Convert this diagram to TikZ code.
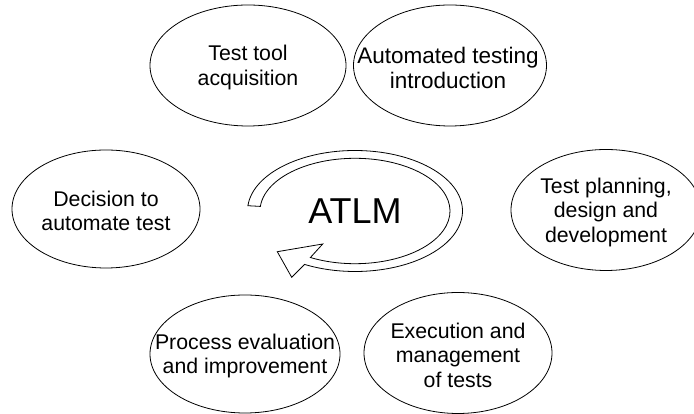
\documentclass[tikz,border=0pt]{standalone}
\usepackage{fontspec}
\setmainfont{Liberation Sans}
\usetikzlibrary{shapes.geometric,calc}
\tikzset{
  bubble/.style={ellipse, draw=black, line width=0.8pt, fill=white, inner sep=0pt},
  lbl/.style={align=center, inner sep=0pt, yshift=-2pt, font=\fontsize{21.3}{24.5}\selectfont},
  cyc/.style={draw=black, line width=0.8pt, fill=white, line join=miter},
}
\begin{document}
\begin{tikzpicture}[x=1pt,y=1pt]
\useasboundingbox (0,0) rectangle (694,414);
\clip (0,0) rectangle (694,414);
% ellipses
\node[bubble, minimum width=196, minimum height=121] (e1) at (248,348.5) {};
\node[bubble, minimum width=193, minimum height=121] (e2) at (450,348.5) {};
\node[bubble, minimum width=188, minimum height=118] (e3) at (106,205) {};
\node[bubble, minimum width=190, minimum height=121] (e4) at (606,204) {};
\node[bubble, minimum width=190, minimum height=118] (e5) at (245,60) {};
\node[bubble, minimum width=188, minimum height=121] (e6) at (458,61) {};
% labels
\node[lbl] (t1) at (e1.center) {Test tool\\acquisition};
\node[lbl, font=\fontsize{22.5}{25}\selectfont] (t2) at ([xshift=-2pt]e2.center) {Automated testing\\introduction};
\node[lbl] (t3) at (e3.center) {Decision to\\automate test};
\node[lbl] (t4) at (e4.center) {Test planning,\\design and\\development};
\node[lbl] (t5) at (e5.center) {Process evaluation\\and improvement};
\node[lbl] (t6) at (e6.center) {Execution and\\management\\of tests};
% central cycle arrow
\coordinate (c) at (355,203);
\draw[cyc] ($(c)+(175:107.5 and 60.5)$)
  arc[start angle=175, end angle=-118, x radius=107.5, y radius=60.5]
  -- (291.7,136.7) -- (277.3,162.3) -- (322.7,170)
  -- ($(c)+(-118:95 and 52.7)$)
  arc[start angle=-118, end angle=175, x radius=95, y radius=52.7]
  -- cycle;
\node[inner sep=0pt, font=\fontsize{36}{40}\selectfont] (atlm) at (c) {ATLM};
\end{tikzpicture}
\end{document}
